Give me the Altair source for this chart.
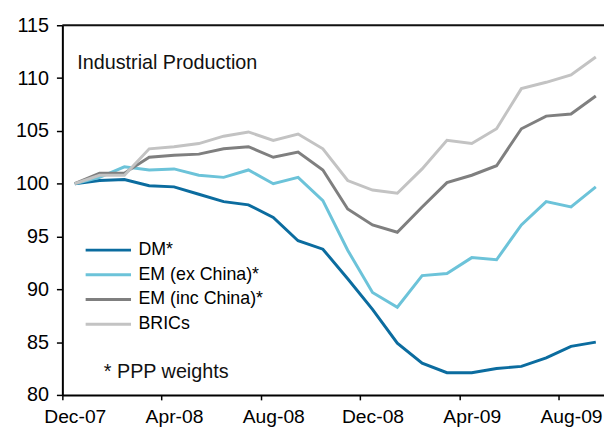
import altair as alt
import pandas as pd

months = ["Dec-07", "Jan-08", "Feb-08", "Mar-08", "Apr-08", "May-08", "Jun-08", "Jul-08",
          "Aug-08", "Sep-08", "Oct-08", "Nov-08", "Dec-08", "Jan-09", "Feb-09", "Mar-09",
          "Apr-09", "May-09", "Jun-09", "Jul-09", "Aug-09", "Sep-09"]

dm = [100.0, 100.3, 100.4, 99.8, 99.7, 99.0, 98.3, 98.0, 96.8, 94.6, 93.8, 91.0,
      88.1, 84.9, 83.0, 82.1, 82.1, 82.5, 82.7, 83.5, 84.6, 85.0]
em_ex_china = [100.0, 100.6, 101.6, 101.3, 101.4, 100.8, 100.6, 101.3, 100.0, 100.6, 98.4, 93.7,
               89.7, 88.3, 91.3, 91.5, 93.0, 92.8, 96.1, 98.3, 97.8, 99.7]
em_inc_china = [100.0, 101.0, 101.0, 102.5, 102.7, 102.8, 103.3, 103.5, 102.5, 103.0, 101.3, 97.6,
                96.1, 95.4, 97.8, 100.1, 100.8, 101.7, 105.2, 106.4, 106.6, 108.3]
brics = [100.0, 100.8, 100.8, 103.3, 103.5, 103.8, 104.5, 104.9, 104.1, 104.7, 103.3, 100.3,
         99.4, 99.1, 101.4, 104.1, 103.8, 105.2, 109.0, 109.6, 110.3, 112.0]

series_names = ["DM*", "EM (ex China)*", "EM (inc China)*", "BRICs"]
series_values = [dm, em_ex_china, em_inc_china, brics]
series_colors = ["#0B6C9F", "#6CC3D9", "#7F7F7F", "#C3C3C3"]

y_ticks = [80, 85, 90, 95, 100, 105, 110, 115]
x_label_idx = [0, 4, 8, 12, 16, 20]

rows = []
for name, vals in zip(series_names, series_values):
    for i, (m, v) in enumerate(zip(months, vals)):
        rows.append({"idx": i, "month": m, "series": name, "value": v})
df = pd.DataFrame(rows)

label_map = "{" + ",".join(f"'{i}':'{months[i]}'" for i in x_label_idx) + "}"

FONT = "Liberation Sans"
x_scale = alt.Scale(domain=[-0.5, 21.33], nice=False, zero=False)
y_scale = alt.Scale(domain=[80, 115], nice=False, zero=False)

lines = alt.Chart(df).mark_line(strokeWidth=3).encode(
    x=alt.X("idx:Q", scale=x_scale,
            axis=alt.Axis(values=x_label_idx, labelExpr=f"{label_map}[datum.value]",
                          title=None, grid=False, tickSize=5, tickOffset=-12.55,
                          labelOffset=12.55, labelFlush=False, labelPadding=8,
                          labelFontSize=19.5, labelFont=FONT, labelColor="#000",
                          domainColor="#000", domainWidth=2, tickColor="#000",
                          tickWidth=1.5)),
    y=alt.Y("value:Q", scale=y_scale,
            axis=alt.Axis(values=y_ticks, title=None, grid=False, tickSize=6,
                          labelPadding=8, labelFontSize=20, labelFont=FONT,
                          labelColor="#000", domainColor="#000", domainWidth=2,
                          tickColor="#000", tickWidth=1.5)),
    color=alt.Color("series:N",
                    scale=alt.Scale(domain=series_names, range=series_colors),
                    legend=alt.Legend(title=None, orient="none", legendX=36, legendY=217,
                                      symbolType="M-2.55,0H2.55", symbolSize=324,
                                      symbolStrokeWidth=3, labelFontSize=18,
                                      labelFont=FONT, labelColor="#000",
                                      labelOffset=20, rowPadding=5, padding=0)),
)

top_border = alt.Chart(pd.DataFrame({"y": [115]})).mark_rule(color="#111", strokeWidth=2).encode(
    y=alt.Y("y:Q", scale=y_scale)
)

notes = pd.DataFrame({
    "idx": [0.1, 1.17],
    "value": [110.9, 81.56],
    "text": ["Industrial Production", "* PPP weights"],
})
note_text = alt.Chart(notes).mark_text(align="left", baseline="alphabetic", fontSize=20,
                                       font=FONT, color="#111").encode(
    x=alt.X("idx:Q", scale=x_scale),
    y=alt.Y("value:Q", scale=y_scale),
    text="text:N",
)

chart = alt.layer(lines, top_border, note_text).properties(
    width=548, height=374,
    autosize=alt.AutoSizeParams(type="none"),
    padding={"left": 55, "top": 15, "right": 0, "bottom": 32},
).configure_view(stroke=None).configure(background="white")

chart.save("out.html", embed_options={"renderer": "svg", "actions": False})
